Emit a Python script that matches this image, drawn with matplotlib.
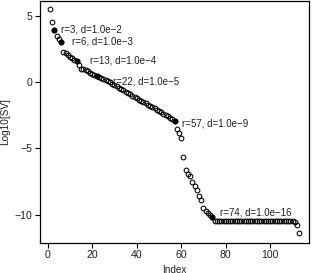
import matplotlib
matplotlib.use("Agg")
import matplotlib.pyplot as plt
import numpy as np

plt.rcParams['font.family'] = ['Liberation Sans', 'DejaVu Sans']

# log10 of singular values, index 1..113
sv_head = [5.5, 4.5, 3.9, 3.5, 3.28, 3.05, 2.3, 2.18, 2.05, 1.92,
           1.82, 1.7, 1.55, 1.25, 1.02, 0.95, 0.88, 0.8, 0.72, 0.64,
           0.56, 0.48, 0.4, 0.32, 0.24, 0.16, 0.07, -0.02, -0.12, -0.22,
           -0.32, -0.42, -0.52, -0.62, -0.72, -0.82, -0.92, -1.02, -1.12, -1.22,
           -1.32, -1.42, -1.52, -1.6, -1.7, -1.78, -1.88, -1.98, -2.08, -2.18,
           -2.28, -2.38, -2.48, -2.58, -2.68, -2.8, -2.95, -3.5, -3.85, -4.2,
           -5.65, -6.65, -6.9, -7.1, -7.55, -7.85, -8.1, -8.55, -8.9, -9.45,
           -9.7, -9.9, -10.05, -10.2]
sv_plateau = [-10.45] * 36
sv_tail = [-10.55, -10.75, -11.4]
log_sv = np.array(sv_head + sv_plateau + sv_tail)
index = np.arange(1, len(log_sv) + 1)

# marked ranks and their tolerances
ranks = [3, 6, 13, 22, 57, 74]
tols = ['1.0e\u22122', '1.0e\u22123', '1.0e\u22124', '1.0e\u22125', '1.0e\u22129', '1.0e\u221216']
label_x = [5.9, 10.7, 19.0, 29.5, 60.2, 77.2]
label_y = [3.95, 3.02, 1.61, 0.05, -3.14, -9.8]

fig = plt.figure(figsize=(3.12, 2.73), dpi=100)
ax = fig.add_axes([0.128, 0.111, 0.863, 0.885])

ax.plot(index, log_sv, 'o', mfc='none', mec='black', ms=3.4, mew=0.75)
r_idx = np.array(ranks)
ax.plot(r_idx, log_sv[r_idx - 1], 'o', mfc='black', mec='black', ms=3.4, mew=0.75)

for r, d, lx, ly in zip(ranks, tols, label_x, label_y):
    ax.text(lx, ly, f'r={r}, d={d}', fontsize=7.0, va='center', ha='left', color='#222222')

ax.set_xlim(-3.5, 117.5)
ax.set_ylim(-12.1, 6.1)
ax.set_xticks([0, 20, 40, 60, 80, 100])
ax.set_yticks([5, 0, -5, -10])
ax.tick_params(direction='out', length=3.5, width=0.8, labelsize=7.6, pad=2,
               labelcolor='#222222')
for s in ax.spines.values():
    s.set_linewidth(0.9)

ax.set_xlabel('Index', fontsize=7.2, labelpad=3, color='#222222')
ax.set_ylabel('Log10[SV]', fontsize=7.2, labelpad=3, color='#222222')

fig.savefig('out.png', dpi=100)
